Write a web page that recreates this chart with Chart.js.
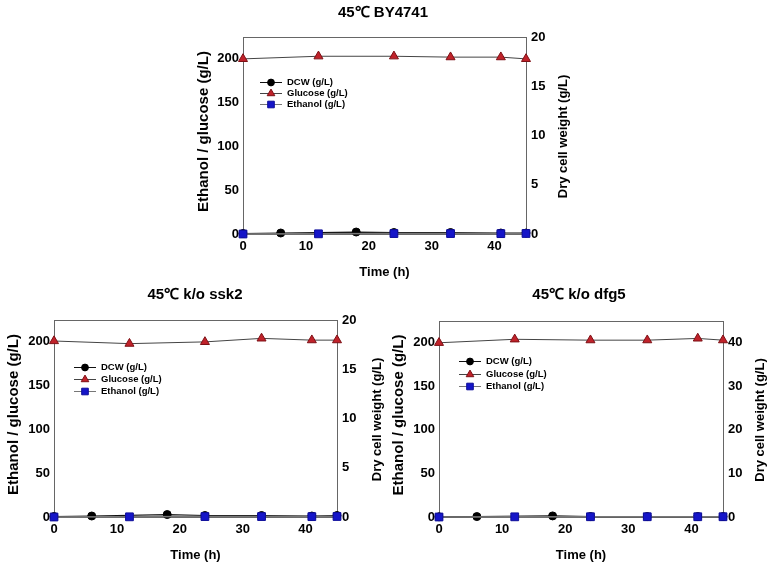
<!DOCTYPE html>
<html><head><meta charset="utf-8">
<script src="https://cdn.jsdelivr.net/npm/chart.js@4.4.0/dist/chart.umd.min.js"></script>
<style>
html,body{margin:0;padding:0;background:#fff;width:770px;height:566px;overflow:hidden;position:relative;}
canvas{position:absolute;}
</style></head><body>
<canvas id="c1" width="376" height="280" style="left:195px;top:0px"></canvas>
<canvas id="c2" width="380" height="283" style="left:5px;top:280px"></canvas>
<canvas id="c3" width="378" height="283" style="left:390px;top:280px"></canvas>
<script>
// ---- data ----
const panelTitles = ['45\u2103 BY4741', '45\u2103 k/o ssk2', '45\u2103 k/o dfg5'];
const seriesLabels = ['DCW (g/L)', 'Glucose (g/L)', 'Ethanol (g/L)'];
const xTitle = 'Time (h)';
const leftTitle = 'Ethanol / glucose (g/L)';
const rightTitle = 'Dry cell weight (g/L)';

const xTicks = [0, 10, 20, 30, 40];
const leftTicks = [0, 50, 100, 150, 200];
const rightTicks20 = [0, 5, 10, 15, 20];
const rightTicks40 = [0, 10, 20, 30, 40];

const dcwTime = [0, 6, 18, 24, 33, 41, 45];
const glucoseTime = [0, 12, 24, 33, 41, 45];
const ethanolTime = [0, 12, 24, 33, 41, 45];

const by4741Dcw = [0.05, 0.1, 0.2, 0.15, 0.15, 0.1, 0.1];
const by4741Glucose = [200, 203, 203, 202, 202, 200];
const by4741Ethanol = [0, 0.2, 0.5, 0.5, 0.4, 0.6];

const ssk2Dcw = [0.05, 0.1, 0.25, 0.15, 0.15, 0.1, 0.15];
const ssk2Glucose = [201, 198, 200, 204, 202, 202];
const ssk2Ethanol = [0, 0.2, 0.5, 0.5, 0.4, 0.6];

const dfg5Dcw = [0.05, 0.1, 0.25, 0.1, 0.1, 0.1, 0.1];
const dfg5Glucose = [200, 204, 203, 203, 205, 203];
const dfg5Ethanol = [0, 0.2, 0.3, 0.3, 0.3, 0.3];

// ---- helpers ----
const FONT = '"Liberation Sans", Arial, Helvetica, sans-serif';
const AXIS_COLOR = '#666';
const pts = (xs, ys) => xs.map((x, i) => ({ x: x, y: ys[i] }));

const frameTop = {
  id: 'frameTop',
  beforeDatasetsDraw(chart) {
    const a = chart.chartArea, ctx = chart.ctx;
    ctx.save();
    ctx.strokeStyle = AXIS_COLOR; ctx.lineWidth = 1;
    ctx.beginPath();
    ctx.moveTo(a.left, a.top + 0.5); ctx.lineTo(a.right, a.top + 0.5);
    ctx.stroke();
    ctx.restore();
  }
};

// vertical axis titles, both reading bottom-to-top
const sideTitles = {
  id: 'sideTitles',
  afterDraw(chart, args, opts) {
    const ctx = chart.ctx, a = chart.chartArea;
    const sL = chart.scales.y, sR = chart.scales.y2;
    const cy = (a.top + a.bottom) / 2;
    ctx.save();
    ctx.fillStyle = '#000'; ctx.textAlign = 'center'; ctx.textBaseline = 'middle';
    ctx.save();
    ctx.font = 'bold 15px ' + FONT;
    ctx.translate(sL.left + 9, cy + opts.leftShift); ctx.rotate(-Math.PI / 2);
    ctx.fillText(opts.left, 0, 0);
    ctx.restore();
    ctx.save();
    ctx.font = 'bold 13px ' + FONT;
    ctx.translate(sR.right - 8, cy + opts.rightShift); ctx.rotate(-Math.PI / 2);
    ctx.fillText(opts.right, 0, 0);
    ctx.restore();
    ctx.restore();
  }
};

const insideLegend = {
  id: 'insideLegend',
  afterDatasetsDraw(chart, args, opts) {
    const ctx = chart.ctx, a = chart.chartArea;
    const x0 = a.left + opts.dx, y0 = a.top + opts.dy;
    ctx.save();
    chart.data.datasets.forEach((ds, i) => {
      const y = Math.round(y0 + i * opts.spacing) + 0.5;
      ctx.strokeStyle = ds.borderColor; ctx.lineWidth = 1;
      ctx.beginPath(); ctx.moveTo(x0, y); ctx.lineTo(x0 + opts.lineLen, y); ctx.stroke();
      ctx.fillStyle = ds.pointBackgroundColor; ctx.strokeStyle = ds.pointBorderColor;
      Chart.helpers.drawPoint(ctx, { pointStyle: ds.pointStyle, radius: ds.pointRadius * 0.85, borderWidth: 1, rotation: 0 }, x0 + opts.lineLen / 2, y);
      ctx.fillStyle = '#000';
      ctx.font = 'bold 9.5px ' + FONT;
      ctx.textBaseline = 'middle'; ctx.textAlign = 'left';
      ctx.fillText(ds.label, x0 + opts.lineLen + 5, y);
    });
    ctx.restore();
  }
};

function fixWidth(w) {
  return function (scale) { scale.width = w; scale.paddingTop = 0; scale.paddingBottom = 0; };
}

function makeChart(id, title, dcw, glu, eth, rightMax, rightTicks, g) {
  const ctx = document.getElementById(id);
  return new Chart(ctx, {
    type: 'scatter',
    data: {
      datasets: [
        { label: seriesLabels[0], data: pts(dcwTime, dcw), yAxisID: 'y2', showLine: true,
          borderColor: '#111', borderWidth: 1.2, pointStyle: 'circle', pointRadius: 4,
          pointBackgroundColor: '#000', pointBorderColor: '#000', pointBorderWidth: 1, order: 2, clip: false },
        { label: seriesLabels[1], data: pts(glucoseTime, glu), yAxisID: 'y', showLine: true,
          borderColor: '#444', borderWidth: 1, pointStyle: 'triangle', pointRadius: 5.2,
          pointBackgroundColor: '#c0222a', pointBorderColor: '#7d1015', pointBorderWidth: 1, order: 1, clip: false },
        { label: seriesLabels[2], data: pts(ethanolTime, eth), yAxisID: 'y', showLine: true,
          borderColor: '#777', borderWidth: 1.6, pointStyle: 'rect', pointRadius: 5.5,
          pointBackgroundColor: '#1515c8', pointBorderColor: '#0d0d99', pointBorderWidth: 1, order: 0, clip: false }
      ]
    },
    options: {
      responsive: false, animation: false, devicePixelRatio: 1,
      layout: { padding: 0 },
      plugins: {
        legend: { display: false }, tooltip: { enabled: false },
        title: { display: true, text: title, color: '#000',
          font: { family: FONT, size: 15, weight: 'bold' },
          padding: { top: g.tTop, bottom: g.tBottom } },
        insideLegend: { dx: g.lx, dy: g.ly, spacing: g.ls, lineLen: 22 },
        sideTitles: { left: leftTitle, right: rightTitle, leftShift: -4, rightShift: 1 }
      },
      scales: {
        x: { type: 'linear', position: 'bottom', min: 0, max: 45,
          afterBuildTicks: s => { s.ticks = xTicks.map(v => ({ value: v })); },
          afterFit: s => { s.height = 46; s.paddingLeft = 0; s.paddingRight = 0; },
          grid: { display: false, drawTicks: false },
          border: { display: true, color: AXIS_COLOR, width: 1 },
          ticks: { color: '#000', padding: 5, font: { family: FONT, size: 13, weight: 'bold' } },
          title: { display: true, text: xTitle, color: '#000', padding: 0,
            font: { family: FONT, size: 13, weight: 'bold' } } },
        y: { type: 'linear', position: 'left', min: 0, max: 225,
          afterBuildTicks: s => { s.ticks = leftTicks.map(v => ({ value: v })); },
          afterFit: fixWidth(g.lw),
          grid: { display: false, drawTicks: false },
          border: { display: true, color: AXIS_COLOR, width: 1 },
          ticks: { color: '#000', padding: 4, font: { family: FONT, size: 13, weight: 'bold' } },
          title: { display: false } },
        y2: { type: 'linear', position: 'right', min: 0, max: rightMax,
          afterBuildTicks: s => { s.ticks = rightTicks.map(v => ({ value: v })); },
          afterFit: fixWidth(g.rw),
          grid: { display: false, drawTicks: false },
          border: { display: true, color: AXIS_COLOR, width: 1 },
          ticks: { color: '#000', padding: 5, font: { family: FONT, size: 13, weight: 'bold' } },
          title: { display: false } }
      }
    },
    plugins: [frameTop, insideLegend, sideTitles]
  });
}

makeChart('c1', panelTitles[0], by4741Dcw, by4741Glucose, by4741Ethanol, 20, rightTicks20,
  { lw: 48, rw: 45, tTop: 4, tBottom: 15, lx: 17, ly: 45, ls: 11 });
makeChart('c2', panelTitles[1], ssk2Dcw, ssk2Glucose, ssk2Ethanol, 20, rightTicks20,
  { lw: 49, rw: 48, tTop: 6, tBottom: 16, lx: 20, ly: 47, ls: 12 });
makeChart('c3', panelTitles[2], dfg5Dcw, dfg5Glucose, dfg5Ethanol, 45, rightTicks40,
  { lw: 49, rw: 45, tTop: 6, tBottom: 17, lx: 20, ly: 40, ls: 12.5 });
</script>
</body></html>
